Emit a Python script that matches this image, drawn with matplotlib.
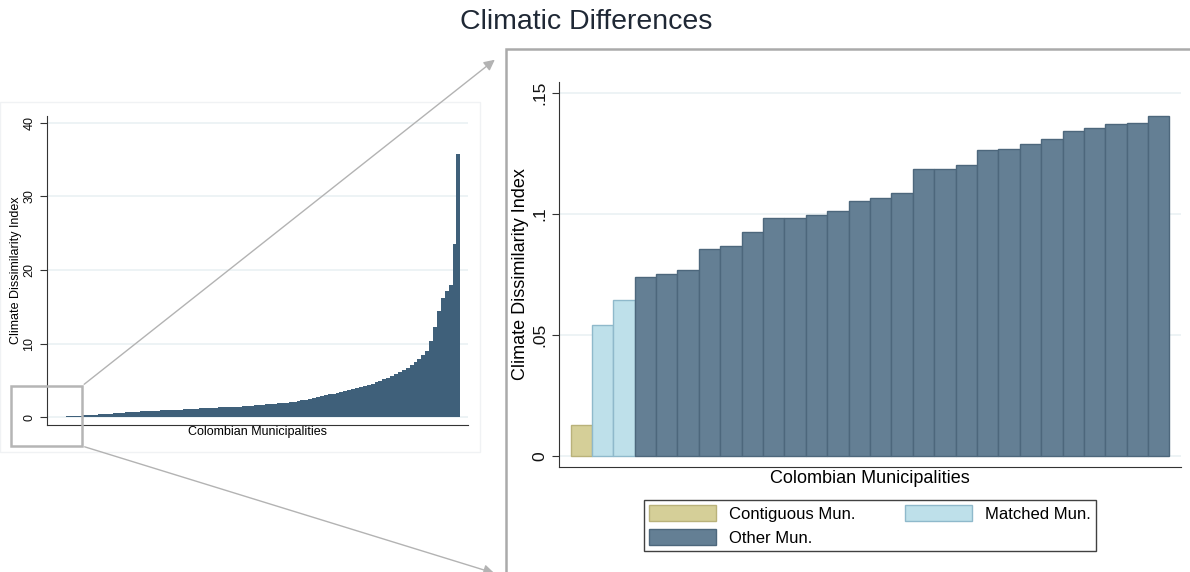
import matplotlib
matplotlib.use("Agg")
import matplotlib.pyplot as plt
from matplotlib.patches import Rectangle, FancyArrowPatch, Patch

plt.rcParams['font.family'] = ['Liberation Sans', 'DejaVu Sans']

# sorted climate dissimilarity index, all municipalities (overview)
all_mun = [0.02, 0.06, 0.10, 0.14, 0.17, 0.20, 0.23, 0.26, 0.29, 0.32,
           0.35, 0.39, 0.43, 0.47, 0.51, 0.55, 0.59, 0.63, 0.67, 0.71,
           0.75, 0.78, 0.80, 0.83, 0.85, 0.88, 0.90, 0.93, 0.95, 0.98,
           1.00, 1.03, 1.06, 1.09, 1.12, 1.15, 1.18, 1.21, 1.24, 1.27,
           1.30, 1.32, 1.34, 1.36, 1.38, 1.40, 1.44, 1.47, 1.51, 1.54,
           1.58, 1.62, 1.66, 1.70, 1.75, 1.80, 1.84, 1.89, 1.94, 1.99,
           2.05, 2.13, 2.22, 2.31, 2.40, 2.50, 2.62, 2.74, 2.86, 2.98,
           3.10, 3.21, 3.32, 3.43, 3.54, 3.65, 3.79, 3.94, 4.09, 4.24,
           4.40, 4.58, 4.78, 4.98, 5.18, 5.40, 5.63, 5.90, 6.17, 6.44,
           6.70, 7.05, 7.45, 7.90, 8.40, 9.00, 10.4, 12.3, 14.5, 16.2,
           17.2, 18.0, 23.5, 35.8]

# lowest values, zoomed in
contiguous = [0.0128]
matched = [0.0541, 0.0646]
other = [0.0738, 0.0750, 0.0768, 0.0854, 0.0867, 0.0925, 0.0981, 0.0982,
         0.0996, 0.1012, 0.1051, 0.1066, 0.1085, 0.1183, 0.1186, 0.1202,
         0.1262, 0.1267, 0.1287, 0.1307, 0.1340, 0.1353, 0.1371, 0.1373,
         0.1405]

C_CONT, E_CONT = '#d5cf98', '#b9b27a'
C_MATCH, E_MATCH = '#bee0ea', '#8fb9cb'
C_OTHER, E_OTHER = '#647f94', '#4d677c'
C_ALL = '#3f607a'
GRID = '#eaf1f3'
FRAME = '#aaaaaa'

W, H = 1190, 572
fig = plt.figure(figsize=(W / 100, H / 100), dpi=100)


def px(x0, y0, x1, y1):
    return [x0 / W, 1 - y1 / H, (x1 - x0) / W, (y1 - y0) / H]


def style(ax, size):
    for s in ('top', 'right'):
        ax.spines[s].set_visible(False)
    for s in ('left', 'bottom'):
        ax.spines[s].set_color('#333333')
    ax.set_xticks([])
    ax.grid(axis='y', color=GRID, lw=1.2)
    ax.set_axisbelow(True)
    ax.tick_params(axis='y', labelsize=size, length=5, color='#333333',
                   labelcolor='#111111')
    for t in ax.get_yticklabels():
        t.set_rotation(90)
        t.set_va('center')


fig.text(586 / W, 1 - 22 / H, 'Climatic Differences', ha='center', va='center',
         fontsize=20.5, color='#1f2835')

# panel frames
fig.add_artist(Rectangle((0, 1 - 452 / H), 480 / W, 350 / H,
                         transform=fig.transFigure, fill=False,
                         ec='#f0f2f4', lw=1))
fig.add_artist(Rectangle((506 / W, -0.05), 0.6, 1.05 - 49 / H,
                         transform=fig.transFigure, fill=False,
                         ec=FRAME, lw=1.8))

# overview
ax1 = fig.add_axes(px(47, 116, 468, 425))
n = len(all_mun)
ax1.bar(range(n), all_mun, width=1.0, color=C_ALL, lw=0)
pad = 7.6 / 405.7 * n
ax1.set_xlim(-0.5 - pad, n - 0.5 + pad)
ax1.set_ylim(-1.04, 40.9)
ax1.set_yticks([0, 10, 20, 30, 40])
ax1.set_yticklabels(['0', '10', '20', '30', '40'])
style(ax1, 9)
ax1.set_ylabel('Climate Dissimilarity Index', fontsize=9, labelpad=1)
ax1.set_xlabel('Colombian Municipalities', fontsize=9, labelpad=1)

# zoomed panel
ax2 = fig.add_axes(px(559, 82, 1181, 467))
x_c = range(len(contiguous))
x_m = range(len(contiguous), len(contiguous) + len(matched))
x_o = range(len(contiguous) + len(matched),
            len(contiguous) + len(matched) + len(other))
ax2.bar(x_c, contiguous, width=1.0, color=C_CONT, ec=E_CONT, lw=1)
ax2.bar(x_m, matched, width=1.0, color=C_MATCH, ec=E_MATCH, lw=1)
ax2.bar(x_o, other, width=1.0, color=C_OTHER, ec=E_OTHER, lw=1)
nb = len(contiguous) + len(matched) + len(other)
ax2.set_xlim(-1.04, nb - 1 + 1.04)
ax2.set_ylim(-0.0045, 0.1544)
ax2.set_yticks([0, 0.05, 0.1, 0.15])
ax2.set_yticklabels(['0', '.05', '.1', '.15'])
style(ax2, 12.5)
ax2.set_ylabel('Climate Dissimilarity Index', fontsize=13, labelpad=2)
ax2.set_xlabel('Colombian Municipalities', fontsize=13, labelpad=2)

handles = [Patch(fc=C_CONT, ec=E_CONT), Patch(fc=C_OTHER, ec=E_OTHER),
           Patch(fc=C_MATCH, ec=E_MATCH)]
labels = ['Contiguous Mun.', 'Other Mun.', 'Matched Mun.']
leg = fig.legend(handles, labels, ncol=2, loc='center',
                 bbox_to_anchor=(644 / W, 1 - 554 / H, 452 / W, 57 / H),
                 mode='expand', fontsize=12, frameon=True, fancybox=False,
                 handlelength=4.0, handleheight=1.1, handletextpad=0.8,
                 labelspacing=0.45, borderpad=0.3, columnspacing=2.0,
                 borderaxespad=0)
leg.get_frame().set_edgecolor('#111111')
leg.get_frame().set_linewidth(1)

# zoom box and arrows
fig.add_artist(Rectangle((11 / W, 1 - 446 / H), 71 / W, 60 / H,
                         transform=fig.transFigure, fill=False,
                         ec='#b5b5b5', lw=1.8))
for (xa, ya), (xb, yb) in [((82, 386), (497, 58)), ((82, 446), (497, 574))]:
    fig.add_artist(FancyArrowPatch((xa / W, 1 - ya / H), (xb / W, 1 - yb / H),
                                   transform=fig.transFigure,
                                   arrowstyle='-|>', mutation_scale=16,
                                   color='#b3b3b3', lw=1))

fig.savefig('out.png', dpi=100)
